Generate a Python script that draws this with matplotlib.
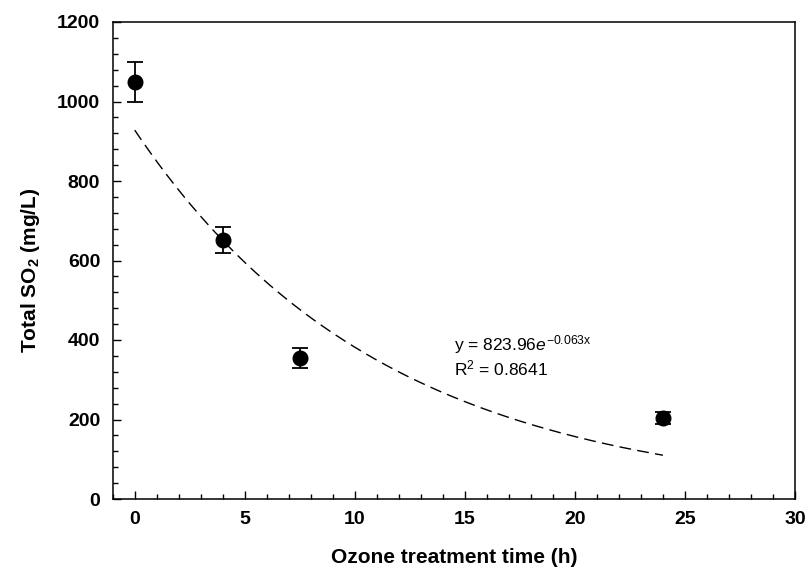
import numpy as np
import matplotlib
matplotlib.use("Agg")
import matplotlib.pyplot as plt
from matplotlib.ticker import MultipleLocator

plt.rcParams['font.family'] = ['Liberation Sans', 'DejaVu Sans']
plt.rcParams['mathtext.fontset'] = 'custom'
plt.rcParams['mathtext.rm'] = 'Liberation Sans'
plt.rcParams['mathtext.it'] = 'Liberation Sans:italic'
plt.rcParams['mathtext.bf'] = 'Liberation Sans:bold'

# Data
time_h = [0, 4, 7.5, 24]
so2_mean = [1049, 652, 355, 204]
so2_err = [50, 32, 25, 15]

# Trendline as drawn: value at 0 h and decay rate
trend_start = 928
trend_rate = 0.0888
trend_x_range = [0, 24]

eq_text = r'y = 823.96$\mathit{e}^{\mathrm{-0.063x}}$'
r2_text = r'R$^{\mathrm{2}}$ = 0.8641'

fig = plt.figure(figsize=(8.08, 5.74), dpi=100)
ax = fig.add_axes([112.7/808, 1-499/574, (795-112.7)/808, (499-22)/574])

tx = np.linspace(trend_x_range[0], trend_x_range[1], 200)
ax.plot(tx, trend_start*np.exp(-trend_rate*tx), color='black', lw=1.0,
        linestyle=(0, (8.5, 4.5)))

ax.errorbar(time_h, so2_mean, yerr=so2_err, fmt='o', color='black',
            markersize=10.5, capsize=5.6, elinewidth=1.3, capthick=1.3,
            zorder=5)

ax.set_xlim(-1, 30)
ax.set_ylim(0, 1200)
ax.xaxis.set_major_locator(MultipleLocator(5))
ax.xaxis.set_minor_locator(MultipleLocator(1))
ax.yaxis.set_major_locator(MultipleLocator(200))
ax.yaxis.set_minor_locator(MultipleLocator(40))
ax.tick_params(which='both', direction='in', top=False, right=False,
               labelsize=14, pad=9)
ax.tick_params(which='major', length=6, width=1)
ax.tick_params(which='minor', length=3.5, width=1)
for lab in ax.get_xticklabels() + ax.get_yticklabels():
    lab.set_fontweight('bold')
for s in ax.spines.values():
    s.set_linewidth(1.1)

ax.set_xlabel('Ozone treatment time (h)', fontsize=15, fontweight='bold',
              labelpad=14)
ax.set_ylabel(r'Total SO$_{\mathbf{2}}$ (mg/L)', fontsize=15,
              fontweight='bold')
ax.yaxis.set_label_coords(-0.104, 0.48)

ax.text(14.5, 375, eq_text, fontsize=12.5, ha='left', va='baseline')
ax.text(14.5, 312, r2_text, fontsize=12.5, ha='left', va='baseline')

fig.savefig('out.png', dpi=100)
